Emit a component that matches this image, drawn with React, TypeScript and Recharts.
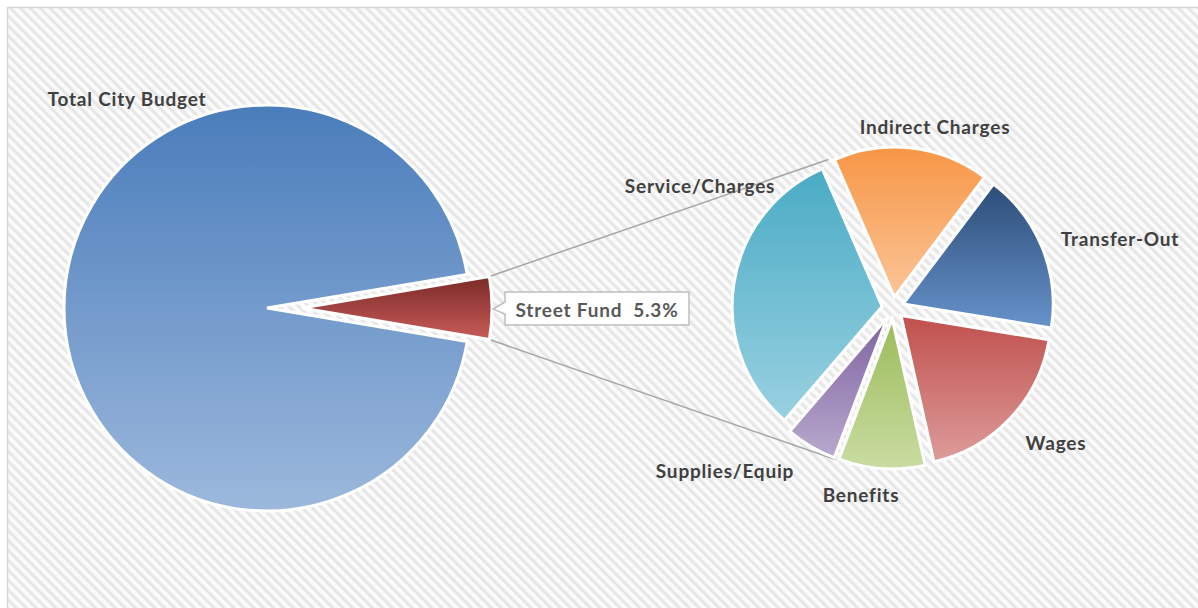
import React from 'react';
import { PieChart, Pie, Cell } from 'recharts';

// ---------- data ----------
const mainCategories = ['Street Fund', 'Total City Budget'];
const mainValues = [5.3, 94.7];
const mainLabels = ['Street Fund  5.3%', 'Total City Budget'];

const detailCategories = ['Indirect Charges', 'Transfer-Out', 'Wages', 'Benefits', 'Supplies/Equip', 'Service/Charges'];
const detailValues = [16.8, 17.3, 18.9, 9.3, 5.5, 32.2];

// ---------- styles / geometry ----------
const W = 1198;
const H = 608;
const MAIN_CX = 267;
const MAIN_CY = 308;
const MAIN_R = 203;
const STREET_R = 190;
const STREET_EXPLODE = 35;
const SEC_CX = 893;
const SEC_CY = 308;
const SEC_R = 150;
const SEC_EXPLODE = 11;
const SEC_START = 113.5;

const mainGrad: [string, string][] = [
  ['#7a2a28', '#c95c59'],
  ['#4a7dbb', '#9cb8dc'],
];
const detailGrad: [string, string][] = [
  ['#f79646', '#fbc597'],
  ['#2c4d77', '#6792cb'],
  ['#c0504d', '#dd9c9a'],
  ['#9bbb59', '#c9dca2'],
  ['#7f63a1', '#b8a9cd'],
  ['#4aabc5', '#99d1e1'],
];

// label offsets relative to pie centre
const detailLabelOffsets: Record<string, [number, number]> = {
  'Indirect Charges': [42, -182],
  'Transfer-Out': [227, -70],
  'Wages': [163, 134],
  'Benefits': [-32, 186],
  'Supplies/Equip': [-168, 162],
  'Service/Charges': [-193, -123],
};

const FONT = 'Lato, "Open Sans", sans-serif';
const TEXT_COLOR = '#404040';
const FS = 19;
const LS = 0.8;

const mainData = mainCategories.map((name, i) => ({ name, value: mainValues[i], label: mainLabels[i] }));
const detailData = detailCategories.map((name, i) => ({ name, value: detailValues[i] }));

const mainHalf = (mainValues[0] / mainValues.reduce((a, b) => a + b, 0)) * 180;
const detailTotal = detailValues.reduce((a, b) => a + b, 0);
const detailMid = detailValues.map((v, i) => {
  const cum = detailValues.slice(0, i).reduce((a, b) => a + b, 0);
  return SEC_START - ((cum + v / 2) / detailTotal) * 360;
});
const boundaryAngle = (k: number) =>
  SEC_START - (detailValues.slice(0, k).reduce((a, b) => a + b, 0) / detailTotal) * 360;

const rad = (a: number) => (a * Math.PI) / 180;

function MainLabel(props: any) {
  const { name } = props;
  if (name === 'Total City Budget') {
    return (
      <text x={MAIN_CX - 140} y={MAIN_CY - 210} textAnchor="middle" dominantBaseline="central"
        fontFamily={FONT} fontWeight={700} fontSize={FS} letterSpacing={LS} fill={TEXT_COLOR}>
        Total City Budget
      </text>
    );
  }
  if (name === 'Street Fund') {
    const x0 = MAIN_CX + 238;
    const x1 = MAIN_CX + 422;
    const y0 = MAIN_CY - 16;
    const y1 = MAIN_CY + 17;
    const tipX = MAIN_CX + STREET_EXPLODE + STREET_R * Math.cos(0) + 1;
    const d = `M${x0},${y0} L${x1},${y0} L${x1},${y1} L${x0},${y1} L${x0},${MAIN_CY + 6} L${tipX},${MAIN_CY + 1} L${x0},${MAIN_CY - 6} Z`;
    return (
      <g>
        <path d={d} fill="#ffffff" stroke="#bfbfbf" strokeWidth={1.5} />
        <text x={(x0 + x1) / 2} y={MAIN_CY + 1} textAnchor="middle" dominantBaseline="central"
          fontFamily={FONT} fontWeight={700} fontSize={FS} letterSpacing={LS} fill="#595959">
          {'Street Fund\u00a0\u00a0' + '5.3%'}
        </text>
      </g>
    );
  }
  return null;
}

function DetailLabel(props: any) {
  const { name } = props;
  const off = detailLabelOffsets[name];
  if (!off) return null;
  return (
    <text x={SEC_CX + off[0]} y={SEC_CY + off[1]} textAnchor="middle" dominantBaseline="central"
      fontFamily={FONT} fontWeight={700} fontSize={FS} letterSpacing={LS} fill={TEXT_COLOR}>
      {name}
    </text>
  );
}

export default function App() {
  const streetTopX = MAIN_CX + STREET_EXPLODE + STREET_R * Math.cos(rad(mainHalf));
  const streetTopY = MAIN_CY - STREET_R * Math.sin(rad(mainHalf));
  const streetBotY = MAIN_CY + STREET_R * Math.sin(rad(mainHalf));
  const lr = SEC_R + SEC_EXPLODE + 1;
  const aTop = rad(boundaryAngle(0));
  const aBot = rad(boundaryAngle(4));

  return (
    <div style={{ position: 'absolute', left: 0, top: 0, width: W, height: H, background: '#ffffff' }}>
      <svg width={W} height={H} style={{ position: 'absolute', left: 0, top: 0 }}>
        <defs>
          <pattern id="stripes" width="7" height="7" patternUnits="userSpaceOnUse" patternTransform="rotate(-45)">
            <rect x="0" y="0" width="7" height="7" fill="#fbfbfb" />
            <rect x="0" y="0" width="3.2" height="7" fill="#e7e7e7" />
          </pattern>
        </defs>
        <rect x={7} y={7} width={W - 7} height={H - 7} fill="url(#stripes)" />
        <line x1={7} y1={7.5} x2={W} y2={7.5} stroke="#d6d6d6" strokeWidth={1.5} />
        <line x1={7.5} y1={7} x2={7.5} y2={H} stroke="#d6d6d6" strokeWidth={1.5} />
        <line x1={streetTopX} y1={streetTopY} x2={SEC_CX + lr * Math.cos(aTop)} y2={SEC_CY - lr * Math.sin(aTop)}
          stroke="#a6a6a6" strokeWidth={1.5} />
        <line x1={streetTopX} y1={streetBotY} x2={SEC_CX + lr * Math.cos(aBot)} y2={SEC_CY - lr * Math.sin(aBot)}
          stroke="#a6a6a6" strokeWidth={1.5} />
      </svg>
      <div style={{ position: 'absolute', left: 0, top: 0 }}>
        <PieChart width={W} height={H} margin={{ top: 0, right: 0, bottom: 0, left: 0 }}>
          <defs>
            {mainGrad.map((g, i) => (
              <linearGradient key={`mg${i}`} id={`mg${i}`} x1="0" y1="0" x2="0" y2="1">
                <stop offset="0%" stopColor={g[0]} />
                <stop offset="100%" stopColor={g[1]} />
              </linearGradient>
            ))}
            {detailGrad.map((g, i) => (
              <linearGradient key={`dg${i}`} id={`dg${i}`} x1="0" y1="0" x2="0" y2="1">
                <stop offset="0%" stopColor={g[0]} />
                <stop offset="100%" stopColor={g[1]} />
              </linearGradient>
            ))}
          </defs>
          {/* main pie: Total City Budget */}
          <Pie data={mainData} dataKey="value" nameKey="name" cx={MAIN_CX} cy={MAIN_CY}
            outerRadius={MAIN_R} startAngle={-mainHalf} endAngle={360 - mainHalf}
            isAnimationActive={false} labelLine={false} label={MainLabel}
            stroke="#ffffff" strokeWidth={3}>
            {mainData.map((d, i) => (
              <Cell key={d.name} fill={i === 1 ? 'url(#mg1)' : 'transparent'} stroke={i === 1 ? '#ffffff' : 'none'} />
            ))}
          </Pie>
          {/* exploded Street Fund slice */}
          <Pie data={mainData} dataKey="value" nameKey="name" cx={MAIN_CX + STREET_EXPLODE} cy={MAIN_CY}
            outerRadius={STREET_R} startAngle={-mainHalf} endAngle={360 - mainHalf}
            isAnimationActive={false} labelLine={false} label={false}
            stroke="#ffffff" strokeWidth={3}>
            {mainData.map((d, i) => (
              <Cell key={d.name} fill={i === 0 ? 'url(#mg0)' : 'transparent'} stroke={i === 0 ? '#ffffff' : 'none'} />
            ))}
          </Pie>
          {/* detail pie: each slice exploded */}
          {detailData.map((_, k) => (
            <Pie key={`dp${k}`} data={detailData} dataKey="value" nameKey="name"
              cx={SEC_CX + SEC_EXPLODE * Math.cos(rad(detailMid[k]))}
              cy={SEC_CY - SEC_EXPLODE * Math.sin(rad(detailMid[k]))}
              outerRadius={SEC_R} startAngle={SEC_START} endAngle={SEC_START - 360}
              isAnimationActive={false} labelLine={false} label={k === 0 ? DetailLabel : false}
              stroke="#ffffff" strokeWidth={3}>
              {detailData.map((d, i) => (
                <Cell key={d.name} fill={i === k ? `url(#dg${i})` : 'transparent'} stroke={i === k ? '#ffffff' : 'none'} />
              ))}
            </Pie>
          ))}
        </PieChart>
      </div>
    </div>
  );
}
